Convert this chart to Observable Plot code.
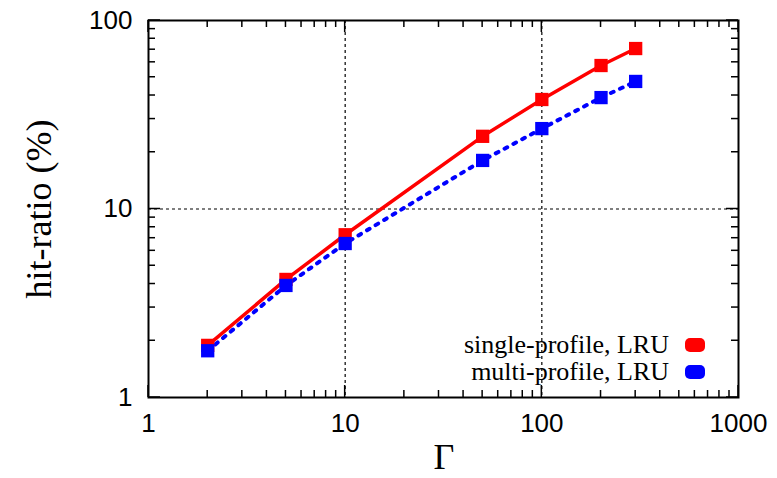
<!DOCTYPE html>
<html><head><meta charset="utf-8">
<script src="https://cdn.jsdelivr.net/npm/d3@7"></script>
<script src="https://cdn.jsdelivr.net/npm/@observablehq/plot@0.6"></script>
<style>
body{margin:0;background:#fff;}
#wrap{position:relative;width:777px;height:478px;overflow:hidden;}
.leg{position:absolute;font-family:"Liberation Serif","DejaVu Serif",serif;font-size:26px;line-height:27px;color:#000;text-align:right;}
.leg .row{display:flex;align-items:center;justify-content:flex-end;height:27px;}
.leg .sw{display:inline-block;width:20px;height:14px;border-radius:5px;margin-left:16px;}
</style></head>
<body><div id="wrap"></div>
<script>
const gamma = [2, 5, 10, 50, 100, 200, 300];
const singleProfile = [1.89, 4.23, 7.3, 24.3, 38.1, 57.7, 71];
const multiProfile = [1.77, 3.93, 6.56, 18.1, 26.7, 39, 47.5];
const seriesNames = ["single-profile, LRU", "multi-profile, LRU"];
const seriesColors = ["#ff0000", "#0000ff"];
const xDomain = [1, 1000];
const yDomain = [1, 100];
const xMajor = [1, 10, 100, 1000];
const yMajor = [1, 10, 100];
const xMinor = [2,3,4,5,6,7,8,9,20,30,40,50,60,70,80,90,200,300,400,500,600,700,800,900];
const yMinor = [2,3,4,5,6,7,8,9,20,30,40,50,60,70,80,90];

const rows = [];
gamma.forEach((g,i)=>{
  rows.push({x:g, y:singleProfile[i], s:seriesNames[0]});
  rows.push({x:g, y:multiProfile[i], s:seriesNames[1]});
});
const single = rows.filter(d=>d.s===seriesNames[0]);
const multi = rows.filter(d=>d.s===seriesNames[1]);

const tickFont = {fontFamily:"'Liberation Sans', Arial, sans-serif", fontSize:26, fill:"#000"};

const chart = Plot.plot({
  width: 777, height: 478,
  marginLeft: 148, marginRight: 39, marginTop: 20, marginBottom: 81,
  style: {background:"#fff", color:"#000", overflow:"visible"},
  x: {type:"log", domain:xDomain},
  y: {type:"log", domain:yDomain},
  marks: [
    Plot.gridX(xMajor.slice(1,3), {stroke:"#000", strokeOpacity:1, strokeWidth:1.2, strokeDasharray:"3,3"}),
    Plot.gridY(yMajor.slice(1,2), {stroke:"#000", strokeOpacity:1, strokeWidth:1.2, strokeDasharray:"3,3"}),
    Plot.axisX(xMajor, {anchor:"bottom", tickSize:0, tickPadding:16, label:null, tickFormat:d=>String(d), ...tickFont}),
    Plot.axisY(yMajor, {anchor:"left", tickSize:0, tickPadding:16, label:null, tickFormat:d=>String(d), ...tickFont}),
    Plot.frame({stroke:"#000", strokeWidth:2}),
    Plot.line(single, {x:"x", y:"y", stroke:seriesColors[0], strokeWidth:3.5}),
    Plot.line(multi, {x:"x", y:"y", stroke:seriesColors[1], strokeWidth:4, strokeDasharray:"3,7"}),
    Plot.dot(single, {x:"x", y:"y", symbol:"square", r:7.5, fill:seriesColors[0]}),
    Plot.dot(multi, {x:"x", y:"y", symbol:"square", r:7.5, fill:seriesColors[1]})
  ]
});
const wrap = document.getElementById("wrap");
wrap.appendChild(chart);

// inward ticks on all four frame sides, positioned through Plot's own scales
const sx = chart.scale("x"), sy = chart.scale("y");
const X = v => sx.apply(v), Y = v => sy.apply(v);
const svg = d3.select(chart);
const tg = svg.append("g").attr("stroke", "#000").attr("stroke-width", 1.5);
function xt(vals, size) {
  vals.forEach(v => {
    const px = X(v);
    tg.append("line").attr("x1", px).attr("x2", px).attr("y1", Y(yDomain[0])).attr("y2", Y(yDomain[0]) - size);
    tg.append("line").attr("x1", px).attr("x2", px).attr("y1", Y(yDomain[1])).attr("y2", Y(yDomain[1]) + size);
  });
}
function yt(vals, size) {
  vals.forEach(v => {
    const py = Y(v);
    tg.append("line").attr("y1", py).attr("y2", py).attr("x1", X(xDomain[0])).attr("x2", X(xDomain[0]) + size);
    tg.append("line").attr("y1", py).attr("y2", py).attr("x1", X(xDomain[1])).attr("x2", X(xDomain[1]) - size);
  });
}
xt(xMinor, 7); xt(xMajor, 12); yt(yMinor, 7); yt(yMajor, 12);

// axis titles
svg.append("text").attr("x", 444).attr("y", 469).attr("text-anchor","middle")
  .attr("font-family","'Liberation Serif', serif").attr("font-size", 36).attr("fill","#000").text("Γ");
svg.append("text").attr("transform","translate(51,209) rotate(-90)").attr("text-anchor","middle")
  .attr("font-family","'Liberation Serif', serif").attr("font-size", 36).attr("fill","#000").text("hit-ratio (%)");

// legend
const leg = document.createElement("div");
leg.className = "leg";
leg.style.right = (777-705)+"px";
leg.style.top = "331px";
seriesNames.forEach((n,i)=>{
  const r = document.createElement("div"); r.className="row";
  const t = document.createElement("span"); t.textContent = n;
  const s = document.createElement("span"); s.className="sw"; s.style.background = seriesColors[i];
  r.appendChild(t); r.appendChild(s); leg.appendChild(r);
});
wrap.appendChild(leg);
</script></body></html>
